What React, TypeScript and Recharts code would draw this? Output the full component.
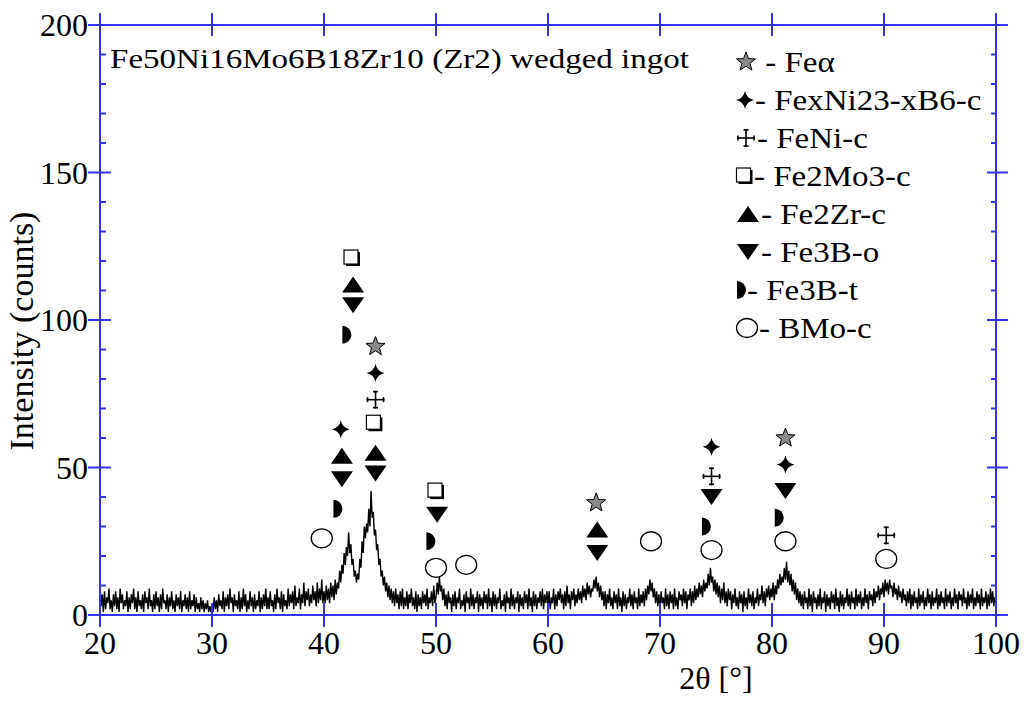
import React from 'react';
import { ComposedChart, Line, Scatter, XAxis, YAxis } from 'recharts';

const BLUE = '#3434ee';
const FONT = "'Liberation Serif', 'DejaVu Serif', serif";

// 2θ grid: 20° to 100° in 0.1° steps, counts (one array per 5°)
const ANGLE_START = 20;
const ANGLE_STEP = 0.1;

const counts20 = [10, 3, 7, 1, 8, 2, 6, 4, 9, 2, 5, 1, 7, 3, 8, 2, 6, 1, 9, 4, 7, 2, 5, 3, 8, 1, 6, 2, 7, 4, 9, 2, 6, 1, 8, 3, 5, 2, 7, 1, 8, 4, 6, 2, 9, 3, 5, 1, 7, 2];
const counts25 = [8, 3, 6, 1, 7, 2, 9, 4, 5, 2, 7, 1, 6, 3, 8, 2, 5, 1, 7, 3, 6, 2, 8, 1, 5, 3, 7, 2, 6, 1, 8, 2, 5, 3, 7, 1, 6, 2, 4, 1, 6, 2, 5, 1, 4, 2, 5, 1, 3, 1];
const counts30 = [4, 1, 6, 2, 5, 1, 7, 3, 5, 2, 8, 1, 6, 3, 7, 2, 9, 4, 6, 1, 7, 3, 5, 2, 8, 1, 6, 2, 9, 3, 7, 1, 5, 2, 8, 3, 6, 1, 7, 2, 5, 3, 8, 1, 6, 2, 7, 3, 9, 2];
const counts35 = [6, 2, 8, 3, 5, 1, 7, 2, 9, 4, 6, 2, 8, 1, 7, 3, 5, 2, 9, 3, 7, 4, 8, 2, 10, 3, 6, 4, 9, 2, 7, 4, 11, 3, 8, 5, 9, 3, 7, 4, 10, 5, 8, 3, 11, 4, 9, 5, 12, 4];
const counts40 = [8, 4, 10, 5, 9, 4, 11, 6, 10, 5, 12, 7, 11, 9, 15, 11, 17, 14, 21, 17, 23, 20, 28, 21, 24, 17, 19, 13, 15, 11, 14, 12, 19, 16, 25, 21, 30, 26, 31, 28, 36, 30, 42, 33, 35, 27, 29, 22, 24, 17];
const counts45 = [19, 13, 15, 10, 13, 8, 11, 6, 10, 5, 9, 4, 8, 3, 9, 4, 7, 2, 8, 3, 9, 2, 6, 3, 8, 2, 7, 4, 9, 3, 6, 2, 8, 1, 7, 3, 6, 2, 8, 4, 7, 3, 9, 2, 6, 4, 8, 3, 10, 4];
const counts50 = [6, 11, 7, 13, 8, 10, 5, 9, 3, 7, 2, 8, 4, 6, 1, 7, 3, 8, 2, 6, 4, 9, 2, 5, 3, 7, 1, 8, 4, 6, 2, 9, 3, 7, 2, 6, 4, 8, 1, 7, 3, 6, 2, 8, 4, 7, 2, 9, 3, 6];
const counts55 = [1, 8, 3, 7, 2, 6, 4, 9, 2, 5, 3, 7, 1, 8, 4, 6, 2, 9, 3, 7, 2, 6, 4, 8, 1, 7, 3, 6, 2, 8, 4, 7, 2, 9, 3, 6, 1, 8, 3, 7, 2, 6, 4, 8, 3, 9, 2, 7, 4, 8];
const counts60 = [3, 8, 2, 6, 4, 9, 2, 7, 3, 8, 5, 9, 4, 7, 2, 8, 3, 10, 4, 7, 2, 8, 5, 9, 3, 7, 4, 9, 5, 8, 4, 10, 6, 9, 5, 11, 7, 10, 6, 9, 8, 12, 9, 13, 8, 11, 6, 10, 5, 8];
const counts65 = [3, 8, 2, 7, 4, 9, 3, 6, 2, 8, 4, 7, 2, 9, 3, 6, 1, 8, 3, 7, 2, 6, 4, 9, 3, 7, 2, 8, 4, 6, 2, 9, 3, 7, 4, 8, 3, 9, 5, 10, 7, 12, 8, 11, 6, 9, 4, 8, 3, 7];
const counts70 = [2, 8, 4, 6, 2, 9, 3, 7, 2, 8, 4, 7, 2, 9, 3, 6, 2, 8, 5, 7, 3, 9, 4, 8, 2, 7, 5, 9, 3, 8, 4, 10, 5, 9, 6, 11, 7, 10, 6, 12, 8, 11, 9, 14, 10, 16, 11, 13, 8, 12];
const counts75 = [7, 11, 6, 10, 4, 9, 5, 11, 4, 8, 3, 9, 5, 8, 2, 7, 4, 9, 3, 6, 2, 8, 4, 7, 1, 8, 3, 6, 2, 9, 4, 7, 3, 8, 2, 6, 4, 9, 3, 7, 5, 10, 4, 8, 3, 9, 6, 10, 5, 9];
const counts80 = [6, 11, 5, 10, 7, 12, 9, 14, 10, 13, 11, 16, 12, 18, 11, 15, 10, 14, 8, 12, 7, 11, 5, 9, 4, 8, 3, 7, 2, 8, 4, 6, 2, 9, 3, 7, 1, 8, 4, 6, 2, 7, 3, 9, 2, 6, 4, 8, 1, 7];
const counts85 = [3, 6, 2, 8, 4, 7, 2, 9, 3, 6, 1, 8, 3, 7, 2, 6, 4, 9, 3, 7, 2, 8, 4, 6, 2, 9, 3, 7, 4, 8, 2, 6, 3, 9, 4, 7, 2, 8, 5, 7, 3, 9, 4, 8, 6, 10, 5, 9, 7, 11];
const counts90 = [6, 12, 8, 11, 7, 12, 9, 10, 6, 11, 7, 9, 5, 10, 6, 8, 4, 9, 5, 7, 3, 8, 4, 9, 2, 7, 3, 8, 4, 6, 2, 9, 3, 7, 4, 8, 2, 6, 3, 9, 4, 7, 2, 8, 3, 6, 4, 9, 2, 7];
const counts95 = [3, 8, 4, 6, 2, 9, 3, 7, 4, 8, 2, 6, 3, 9, 4, 7, 2, 8, 5, 7, 3, 9, 4, 6, 2, 8, 3, 7, 4, 9, 2, 6, 3, 8, 4, 7, 2, 9, 3, 6, 4, 8, 2, 7, 3, 9, 4, 8, 3, 6, 5];

const counts = [
  ...counts20, ...counts25, ...counts30, ...counts35, ...counts40, ...counts45, ...counts50, ...counts55,
  ...counts60, ...counts65, ...counts70, ...counts75, ...counts80, ...counts85, ...counts90, ...counts95,
];
const scan = counts.map((c, i) => ({ t: +(ANGLE_START + i * ANGLE_STEP).toFixed(1), counts: c }));

const xTicks = [20, 30, 40, 50, 60, 70, 80, 90, 100];
const yTicks = [0, 50, 100, 150, 200];
const yMinorTicks = [10, 20, 30, 40, 60, 70, 80, 90, 110, 120, 130, 140, 160, 170, 180, 190];

// phase markers (2θ, height of marker)
const feAlpha = [{ t: 44.6, counts: 91 }, { t: 64.3, counts: 38 }, { t: 81.2, counts: 60 }];
const feNiB6 = [{ t: 44.6, counts: 82 }, { t: 41.5, counts: 63 }, { t: 74.6, counts: 57 }, { t: 81.2, counts: 51 }];
const feNi = [{ t: 44.6, counts: 73 }, { t: 74.6, counts: 47 }, { t: 90.2, counts: 27 }];
const fe2Mo3 = [{ t: 42.5, counts: 121 }, { t: 44.5, counts: 65 }, { t: 50.0, counts: 42 }];
const fe2Zr = [{ t: 42.6, counts: 112 }, { t: 44.6, counts: 55 }, { t: 41.6, counts: 54 }, { t: 64.4, counts: 29 }];
const fe3BO = [{ t: 42.6, counts: 105 }, { t: 44.6, counts: 48 }, { t: 41.6, counts: 46 }, { t: 50.1, counts: 34 }, { t: 64.4, counts: 21 }, { t: 74.6, counts: 40 }, { t: 81.2, counts: 42 }];
const fe3BT = [{ t: 42.0, counts: 95 }, { t: 41.2, counts: 36 }, { t: 49.5, counts: 25 }, { t: 74.1, counts: 30 }, { t: 80.6, counts: 33 }];
const bmo = [{ t: 39.8, counts: 26 }, { t: 50.0, counts: 16 }, { t: 52.7, counts: 17 }, { t: 69.2, counts: 25 }, { t: 74.6, counts: 22 }, { t: 81.2, counts: 25 }, { t: 90.2, counts: 19 }];

const legendItems = [
  { kind: 'star', label: ' - Feα' },
  { kind: 'spark', label: '- FexNi23-xB6-c' },
  { kind: 'cross', label: '- FeNi-c' },
  { kind: 'square', label: '- Fe2Mo3-c' },
  { kind: 'up', label: '- Fe2Zr-c' },
  { kind: 'down', label: '- Fe3B-o' },
  { kind: 'half', label: '- Fe3B-t' },
  { kind: 'circle', label: '- BMo-c' },
];

const glyphWidth: Record<string, number> = {
  star: 20, spark: 18, cross: 20, square: 17, up: 24, down: 24, half: 10, circle: 22,
};

function starPoints(cx: number, cy: number, R: number, r: number) {
  const pts: string[] = [];
  for (let i = 0; i < 10; i++) {
    const rad = i % 2 === 0 ? R : r;
    const a = -Math.PI / 2 + (i * Math.PI) / 5;
    pts.push(`${cx + rad * Math.cos(a)},${cy + rad * Math.sin(a)}`);
  }
  return pts.join(' ');
}

function Glyph({ kind, cx, cy }: { kind: string; cx: number; cy: number }) {
  switch (kind) {
    case 'star':
      return <polygon points={starPoints(cx, cy, 10, 4.2)} fill="#8a8a8a" stroke="#000" strokeWidth={1} />;
    case 'spark':
      return (
        <path
          d={`M${cx},${cy - 9} Q${cx + 1.5},${cy - 1.5} ${cx + 9},${cy} Q${cx + 1.5},${cy + 1.5} ${cx},${cy + 9} Q${cx - 1.5},${cy + 1.5} ${cx - 9},${cy} Q${cx - 1.5},${cy - 1.5} ${cx},${cy - 9} Z`}
          fill="#000"
        />
      );
    case 'cross':
      return (
        <g stroke="#000" strokeWidth={1.6}>
          <line x1={cx - 9} y1={cy} x2={cx + 9} y2={cy} />
          <line x1={cx} y1={cy - 9} x2={cx} y2={cy + 9} />
          <line x1={cx - 2.5} y1={cy - 8} x2={cx + 2.5} y2={cy - 8} />
          <line x1={cx - 2.5} y1={cy + 8} x2={cx + 2.5} y2={cy + 8} />
          <line x1={cx - 8} y1={cy - 2.5} x2={cx - 8} y2={cy + 2.5} />
          <line x1={cx + 8} y1={cy - 2.5} x2={cx + 8} y2={cy + 2.5} />
        </g>
      );
    case 'square':
      return (
        <g>
          <rect x={cx - 6} y={cy - 6} width={14} height={14} fill="#000" />
          <rect x={cx - 8} y={cy - 8} width={14} height={14} fill="#fff" stroke="#000" strokeWidth={1.2} />
        </g>
      );
    case 'up':
      return <polygon points={`${cx - 11},${cy + 8} ${cx + 11},${cy + 8} ${cx},${cy - 8}`} fill="#000" />;
    case 'down':
      return <polygon points={`${cx - 11},${cy - 8} ${cx + 11},${cy - 8} ${cx},${cy + 8}`} fill="#000" />;
    case 'half':
      return <path d={`M${cx - 4},${cy - 9} A9 9 0 0 1 ${cx - 4},${cy + 9} Z`} fill="#000" />;
    case 'circle':
      return <ellipse cx={cx} cy={cy} rx={10.5} ry={9.5} fill="#fff" stroke="#000" strokeWidth={1.3} />;
    default:
      return null;
  }
}

const markerShape = (kind: string) => (p: any) => <Glyph kind={kind} cx={p.cx} cy={p.cy} />;
const blank = () => '';
const tickStroke = { stroke: BLUE, strokeWidth: 2 };

export default function App() {
  return (
    <div style={{ position: 'absolute', left: 0, top: 0, width: 1024, height: 705, background: '#fff' }}>
      <ComposedChart width={1024} height={705} data={scan} margin={{ top: 13, right: 16, bottom: 30, left: 40 }}>
        <XAxis
          xAxisId="main"
          dataKey="t"
          type="number"
          domain={[20, 100]}
          ticks={xTicks}
          allowDataOverflow
          height={60}
          tickSize={12}
          tickMargin={4}
          axisLine={{ stroke: BLUE, strokeWidth: 2 }}
          tickLine={tickStroke}
          tick={{ fill: '#000', fontSize: 32, fontFamily: FONT }}
        />
        <XAxis xAxisId="bottomIn" dataKey="t" type="number" domain={[20, 100]} allowDataOverflow ticks={xTicks} mirror height={1}
          tickSize={12} axisLine={false} tickLine={tickStroke} tickFormatter={blank} />
        <XAxis xAxisId="top" dataKey="t" orientation="top" type="number" domain={[20, 100]} allowDataOverflow ticks={xTicks}
          height={12} tickSize={12} axisLine={{ stroke: BLUE, strokeWidth: 2 }} tickLine={tickStroke} tickFormatter={blank} />
        <XAxis xAxisId="topIn" dataKey="t" orientation="top" type="number" domain={[20, 100]} allowDataOverflow ticks={xTicks}
          mirror height={1} tickSize={11} axisLine={false} tickLine={tickStroke} tickFormatter={blank} />

        <YAxis
          yAxisId="main"
          dataKey="counts"
          type="number"
          domain={[0, 200]}
          ticks={yTicks}
          allowDataOverflow
          width={60}
          tickSize={12}
          tickMargin={0}
          axisLine={{ stroke: BLUE, strokeWidth: 2 }}
          tickLine={tickStroke}
          tick={{ fill: '#000', fontSize: 32, fontFamily: FONT }}
        />
        <YAxis yAxisId="leftIn" dataKey="counts" type="number" domain={[0, 200]} allowDataOverflow ticks={yTicks} mirror width={1}
          tickSize={11} axisLine={false} tickLine={tickStroke} tickFormatter={blank} />
        <YAxis yAxisId="leftMinor" dataKey="counts" type="number" domain={[0, 200]} allowDataOverflow ticks={yMinorTicks} mirror width={1}
          tickSize={5} axisLine={false} tickLine={tickStroke} tickFormatter={blank} />
        <YAxis yAxisId="right" dataKey="counts" orientation="right" type="number" domain={[0, 200]} allowDataOverflow ticks={yTicks}
          width={12} tickSize={12} axisLine={{ stroke: BLUE, strokeWidth: 2 }} tickLine={tickStroke} tickFormatter={blank} />
        <YAxis yAxisId="rightIn" dataKey="counts" orientation="right" type="number" domain={[0, 200]} allowDataOverflow ticks={yTicks}
          mirror width={1} tickSize={9} axisLine={false} tickLine={tickStroke} tickFormatter={blank} />
        <YAxis yAxisId="rightMinor" dataKey="counts" orientation="right" type="number" domain={[0, 200]} allowDataOverflow ticks={yMinorTicks}
          mirror width={1} tickSize={4} axisLine={false} tickLine={tickStroke} tickFormatter={blank} />

        <Line xAxisId="main" yAxisId="main" type="linear" dataKey="counts" stroke="#000" strokeWidth={1.4}
          dot={false} isAnimationActive={false} />

        <Scatter xAxisId="main" yAxisId="main" data={feAlpha} dataKey="counts" shape={markerShape('star')} isAnimationActive={false} />
        <Scatter xAxisId="main" yAxisId="main" data={feNiB6} dataKey="counts" shape={markerShape('spark')} isAnimationActive={false} />
        <Scatter xAxisId="main" yAxisId="main" data={feNi} dataKey="counts" shape={markerShape('cross')} isAnimationActive={false} />
        <Scatter xAxisId="main" yAxisId="main" data={fe2Mo3} dataKey="counts" shape={markerShape('square')} isAnimationActive={false} />
        <Scatter xAxisId="main" yAxisId="main" data={fe2Zr} dataKey="counts" shape={markerShape('up')} isAnimationActive={false} />
        <Scatter xAxisId="main" yAxisId="main" data={fe3BO} dataKey="counts" shape={markerShape('down')} isAnimationActive={false} />
        <Scatter xAxisId="main" yAxisId="main" data={fe3BT} dataKey="counts" shape={markerShape('half')} isAnimationActive={false} />
        <Scatter xAxisId="main" yAxisId="main" data={bmo} dataKey="counts" shape={markerShape('circle')} isAnimationActive={false} />
      </ComposedChart>

      {/* sample name */}
      <div style={{ position: 'absolute', left: 110, top: 45, fontFamily: FONT, fontSize: 28, lineHeight: 1, whiteSpace: 'nowrap', transform: 'scaleX(1.18)', transformOrigin: 'left' }}>
        Fe50Ni16Mo6B18Zr10 (Zr2) wedged ingot
      </div>

      {/* phase key */}
      {legendItems.map((item, i) => (
        <div key={item.kind} style={{ position: 'absolute', left: 735, top: 62 + i * 38 - 15, height: 30, display: 'flex', alignItems: 'center', fontFamily: FONT, fontSize: 30, lineHeight: 1, whiteSpace: 'nowrap' }}>
          <svg width={glyphWidth[item.kind] + 2} height={24} style={{ overflow: 'visible' }}>
            <Glyph kind={item.kind} cx={(glyphWidth[item.kind] + 2) / 2} cy={12} />
          </svg>
          <span style={{ display: 'inline-block', whiteSpace: 'pre', transform: 'scaleX(1.1)', transformOrigin: 'left' }}>{item.label}</span>
        </div>
      ))}

      {/* axis titles */}
      <div style={{ position: 'absolute', left: 22, top: 331, fontFamily: FONT, fontSize: 34, lineHeight: 1, whiteSpace: 'nowrap', transform: 'translate(-50%, -50%) rotate(-90deg)' }}>
        Intensity (counts)
      </div>
      <div style={{ position: 'absolute', left: 716, top: 678, fontFamily: FONT, fontSize: 32, lineHeight: 1, whiteSpace: 'nowrap', transform: 'translate(-50%, -50%)' }}>
        2θ [°]
      </div>
    </div>
  );
}
